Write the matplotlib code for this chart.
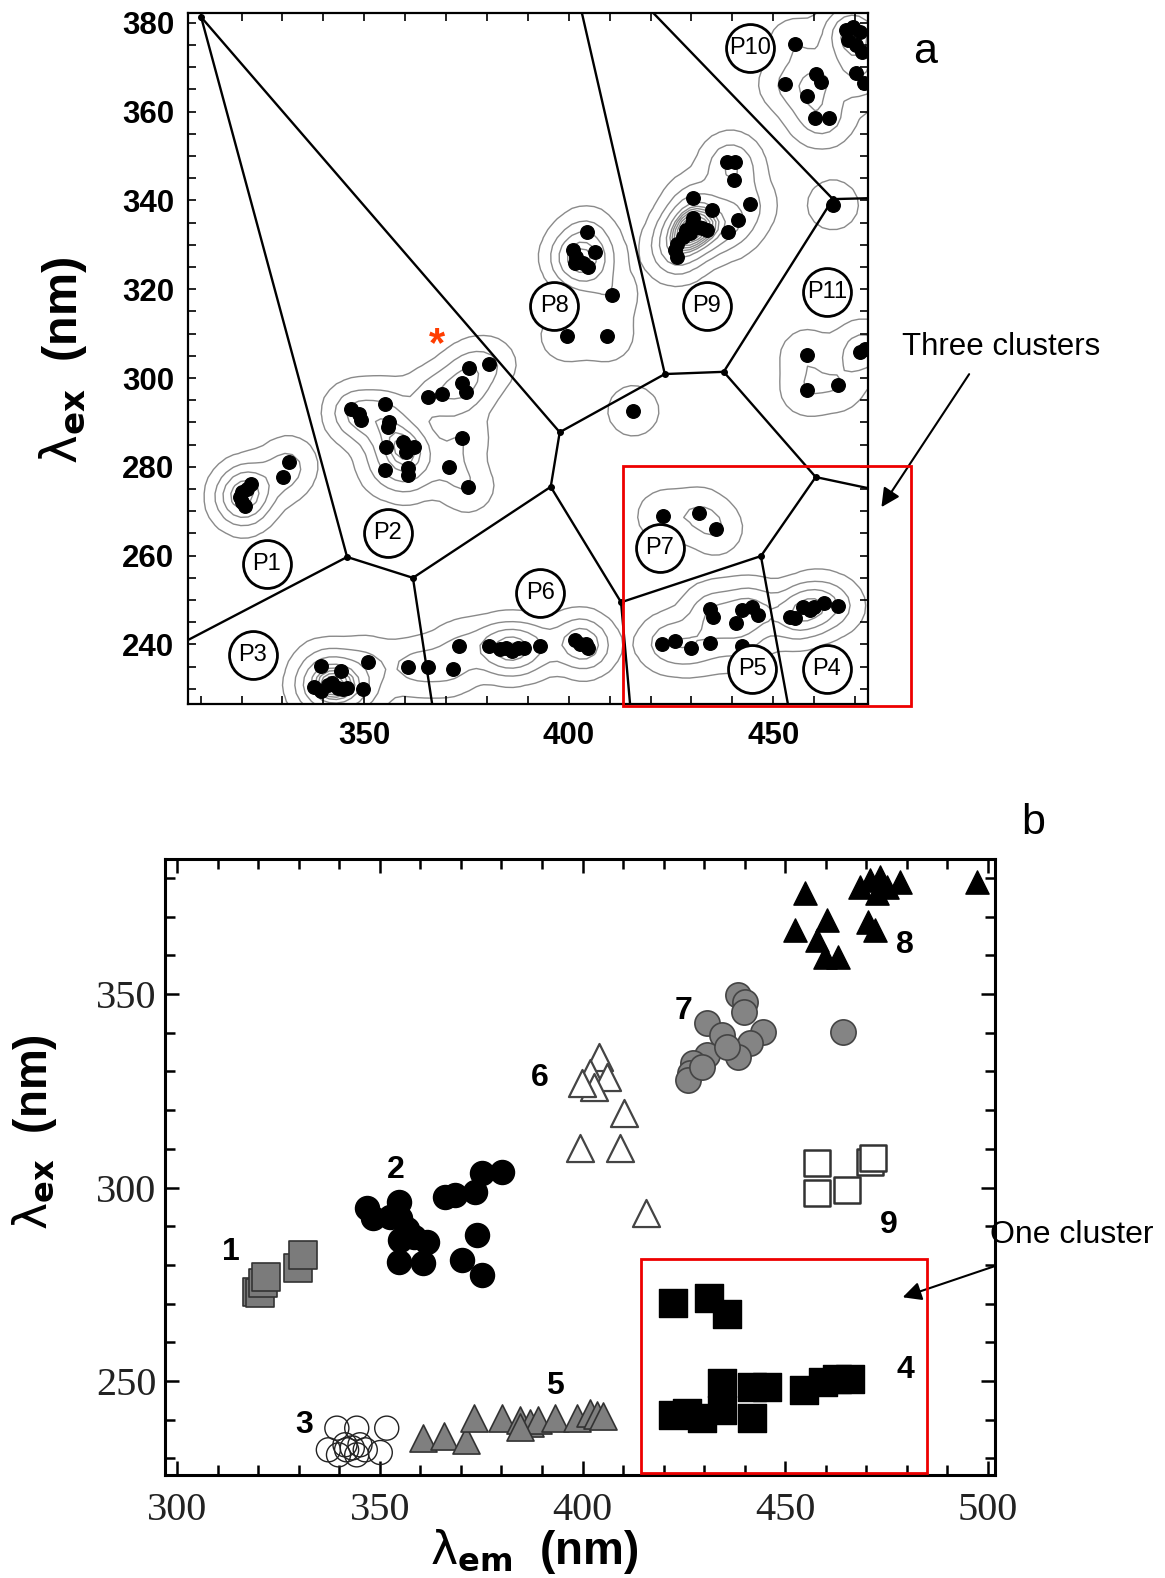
import numpy as np
import matplotlib
matplotlib.use("Agg")
import matplotlib.pyplot as plt
from matplotlib.patches import Rectangle
from matplotlib.ticker import MultipleLocator

plt.rcParams['font.family'] = ['Liberation Sans', 'DejaVu Sans']
plt.rcParams['mathtext.fontset'] = 'dejavusans'

# ---------------- panel a: peak maxima (lambda_em, lambda_ex) in nm ----------------
p1_em = [331.6, 330.1, 322.3, 321.3, 320.1, 319.6, 320.1, 320.8]
p1_ex = [281.1, 277.7, 276.1, 275.0, 274.3, 273.2, 272.1, 271.2]

p2_em = [346.8, 348.8, 349.2, 355.1, 356.1, 355.7, 355.2, 359.4, 360.4, 362.2, 360.2, 355.1,
         360.8, 360.8, 365.7, 369.0, 374.0, 374.9, 375.7, 380.6, 373.9, 370.6, 375.3]
p2_ex = [293.0, 292.0, 290.5, 294.1, 290.2, 289.0, 284.5, 285.7, 284.5, 284.5, 283.4, 279.3,
         279.7, 278.2, 295.8, 296.5, 298.8, 296.9, 302.2, 303.2, 286.6, 280.0, 275.5]

p3_em = [339.4, 344.3, 337.8, 339.4, 341.1, 342.2, 343.5, 344.7, 345.8, 349.6, 351.0, 360.8, 365.7, 371.6]
p3_ex = [235.1, 234.1, 230.5, 229.6, 230.9, 231.4, 230.1, 229.9, 230.1, 229.9, 236.0, 235.0, 235.0, 234.5]

p4_em = [454.1, 455.3, 457.4, 459.0, 459.9, 462.4, 465.9]
p4_ex = [246.2, 245.9, 248.4, 247.7, 248.5, 249.4, 248.6]

p5_em = [422.9, 426.0, 429.8, 434.5, 434.5, 435.2, 440.9, 442.3, 444.8, 446.3, 442.3]
p5_ex = [240.1, 240.8, 239.1, 240.4, 247.9, 246.2, 244.9, 247.7, 248.5, 246.6, 239.6]

p6_em = [373.2, 380.4, 383.2, 384.7, 386.1, 387.6, 389.0, 393.0, 401.5, 402.7, 404.3, 404.7]
p6_ex = [239.6, 239.6, 238.9, 239.1, 238.5, 239.2, 239.1, 239.6, 241.0, 240.2, 240.2, 239.1]

p7_em = [423.1, 431.8, 436.1]
p7_ex = [268.9, 269.5, 266.0]

p8_em = [404.4, 401.1, 401.9, 403.6, 404.7, 406.4, 401.5, 410.5, 399.5, 409.4]
p8_ex = [332.9, 328.8, 327.3, 325.8, 325.1, 328.4, 325.8, 318.7, 309.5, 309.5]

p9_em = [438.6, 440.6, 440.3, 444.3, 441.3, 439.0, 430.5, 435.0, 430.5, 430.1,
         431.3, 432.5, 428.8, 428.0, 426.4, 426.0, 426.4, 433.7, 429.6, 464.6]
p9_ex = [348.7, 348.7, 344.6, 339.3, 335.6, 333.0, 340.5, 337.8, 336.0, 334.8,
         334.1, 333.7, 333.3, 331.8, 330.3, 328.8, 327.3, 333.3, 332.6, 339.0]

p10_em = [455.3, 452.9, 460.5, 461.6, 458.2, 460.2, 463.6, 467.8, 469.5, 471.2,
          468.3, 470.2, 471.7, 470.2, 472.2]
p10_ex = [375.2, 366.2, 368.5, 366.7, 363.5, 358.5, 358.5, 378.4, 379.1, 377.9,
          376.1, 375.0, 373.4, 368.7, 366.4]

p11_em = [458.2, 458.2, 465.9, 471.2, 472.5, 415.8]
p11_ex = [305.2, 297.3, 298.4, 305.9, 306.5, 292.6]

# Voronoi tessellation: vertices and edges (index pairs)
vert_em = [310.1, 345.8, 397.8, 361.9, 395.6, 412.8, 447.0, 460.4, 437.9, 423.5, 464.6,
           306.9, 366.6, 415.0, 453.6, 473.2, 403.2, 420.6, 473.2]
vert_ex = [381.3, 259.7, 287.8, 255.0, 275.5, 249.5, 259.9, 277.7, 301.4, 300.9, 340.3,
           241.0, 226.6, 226.6, 226.6, 275.2, 382.3, 382.3, 340.5]
n_inner = 11
edges = [(0, 1), (0, 2), (1, 11), (1, 3), (3, 12), (3, 4), (4, 2), (4, 5), (5, 13), (5, 6),
         (6, 14), (6, 7), (7, 15), (7, 8), (8, 9), (9, 2), (9, 16), (8, 10), (10, 18), (10, 17)]

peak_names = ['P1', 'P2', 'P3', 'P4', 'P5', 'P6', 'P7', 'P8', 'P9', 'P10', 'P11']
peak_lab_em = [326.1, 355.8, 322.7, 463.1, 444.9, 393.0, 422.3, 396.4, 433.8, 444.3, 463.1]
peak_lab_ex = [258.2, 265.1, 237.6, 234.5, 234.5, 251.5, 261.7, 316.2, 316.2, 374.3, 319.4]

# ---------------- panel b: clustered peaks ----------------
b1_em = [319.7, 320.5, 321.3, 322.0, 329.9, 331.1]
b1_ex = [273.1, 272.7, 275.2, 276.9, 279.1, 282.6]

b2_em = [346.8, 348.4, 354.6, 355.0, 356.6, 355.0, 361.6, 354.6, 360.7, 366.1,
         368.6, 373.5, 375.1, 380.1, 373.9, 370.2, 375.1, 358.3, 352.5]
b2_ex = [294.6, 292.0, 296.3, 292.0, 289.4, 286.4, 286.0, 280.8, 280.4, 297.5,
         298.1, 298.9, 303.7, 304.1, 287.7, 281.3, 277.4, 287.3, 292.5]

b3_em = [339.4, 344.3, 351.7, 337.3, 339.8, 341.8, 344.3, 346.4, 350.1, 341.4, 343.2, 345.1]
b3_ex = [237.8, 237.8, 237.8, 232.2, 230.9, 232.2, 230.9, 232.2, 231.5, 233.5, 232.7, 233.5]

b4_em = [422.4, 431.3, 435.6, 422.4, 425.7, 429.4, 434.3, 434.3, 441.7, 441.7,
         445.4, 454.5, 459.4, 462.7, 466.0]
b4_ex = [270.2, 271.4, 267.3, 241.2, 241.7, 240.4, 249.4, 242.5, 248.5, 240.4,
         248.5, 247.7, 249.8, 250.6, 250.6]

b5_em = [360.7, 365.7, 371.3, 373.1, 380.1, 384.6, 387.1, 389.1, 393.2, 384.6,
         398.6, 401.8, 403.5, 405.1]
b5_ex = [235.2, 235.8, 234.8, 240.4, 240.4, 240.0, 239.1, 240.0, 240.4, 238.2,
         240.4, 241.7, 241.3, 240.9]

b6_em = [404.1, 401.8, 406.0, 402.7, 399.9, 410.1, 399.4, 409.2, 415.7]
b6_ex = [333.8, 329.5, 328.6, 326.0, 327.0, 319.2, 310.1, 310.1, 293.3]

b7_em = [438.4, 440.1, 439.7, 430.6, 434.3, 444.6, 441.3, 438.4, 430.6, 427.3,
         426.5, 426.1, 429.4, 435.6, 464.3]
b7_ex = [349.7, 348.0, 345.4, 342.4, 339.4, 340.3, 337.3, 333.8, 334.2, 332.1,
         329.5, 327.8, 331.2, 336.4, 340.3]

b8_em = [454.9, 452.4, 460.2, 457.8, 459.8, 463.1, 468.4, 470.9, 473.4, 475.0,
         478.4, 472.5, 470.5, 472.1, 497.2]
b8_ex = [376.0, 366.5, 369.1, 363.9, 359.6, 359.6, 377.7, 379.5, 380.3, 377.7,
         379.0, 376.0, 368.7, 366.5, 379.0]

b9_em = [457.8, 457.8, 465.2, 470.9, 471.7]
b9_ex = [306.3, 298.5, 299.4, 306.7, 307.5]

clu_names = ['1', '2', '3', '4', '5', '6', '7', '8', '9']
clu_lab_em = [313.3, 353.8, 331.3, 479.5, 393.2, 389.5, 425.0, 479.5, 475.6]
clu_lab_ex = [283.3, 304.5, 238.6, 252.8, 248.7, 328.3, 345.6, 362.7, 290.3]

# ---------------- figure ----------------
fig = plt.figure(figsize=(11.65, 15.78), dpi=100)

# ===== panel a =====
ax = fig.add_axes([0.1614, 0.5539, 0.5837, 0.4381])
ax.set_xlim(306.9, 473.2)
ax.set_ylim(226.6, 382.3)

all_em = np.array(p1_em + p2_em + p3_em + p4_em + p5_em + p6_em + p7_em + p8_em + p9_em + p10_em + p11_em)
all_ex = np.array(p1_ex + p2_ex + p3_ex + p4_ex + p5_ex + p6_ex + p7_ex + p8_ex + p9_ex + p10_ex + p11_ex)

# density contours (gaussian kernel on a coarse grid)
gx = np.arange(300, 480, 1.8)
gy = np.arange(220, 390, 1.8)
GX, GY = np.meshgrid(gx, gy)
sx, sy = 4.0, 3.6
dens = np.exp(-((GX[..., None] - all_em) ** 2 / (2 * sx ** 2)
                + (GY[..., None] - all_ex) ** 2 / (2 * sy ** 2))).sum(-1)
levels = [0.3, 1.2, 2.4, 3.8, 4.6, 5.1, 5.6, 6.1, 6.6, 7.1, 7.6, 8.1, 8.6, 9.1, 9.6, 10.1, 10.6]
ax.contour(GX, GY, dens, levels=levels, colors='#8a8a8a', linewidths=1.0, zorder=1)

for i, j in edges:
    ax.plot([vert_em[i], vert_em[j]], [vert_ex[i], vert_ex[j]], color='black', lw=1.7, zorder=2)
ax.scatter(vert_em[:n_inner], vert_ex[:n_inner], s=16, color='black', zorder=3)

ax.scatter(all_em, all_ex, s=95, color='black', zorder=4)

ax.scatter(peak_lab_em, peak_lab_ex, s=1190, facecolors='white', edgecolors='black',
           linewidths=2.0, zorder=5)
for name, x, y in zip(peak_names, peak_lab_em, peak_lab_ex):
    ax.text(x, y, name, fontsize=17, ha='center', va='center', zorder=6)

ax.text(367.7, 307.4, '*', color='#ff3c00', fontsize=30, fontweight='bold',
        ha='center', va='center', zorder=6)

ax.xaxis.set_major_locator(MultipleLocator(50))
ax.xaxis.set_minor_locator(MultipleLocator(10))
ax.yaxis.set_major_locator(MultipleLocator(20))
ax.yaxis.set_minor_locator(MultipleLocator(5))
ax.tick_params(which='both', direction='in', top=True, right=True, length=6, width=1.2)
ax.tick_params(axis='x', labelsize=22.5, pad=12)
ax.tick_params(axis='y', labelsize=22.5, pad=10)
for lab in ax.get_xticklabels() + ax.get_yticklabels():
    lab.set_fontweight('bold')
for sp in ax.spines.values():
    sp.set_linewidth(1.6)

ax.add_patch(Rectangle((413.2, 226.1), 70.4, 54.1, fill=False, ec='#ee0000', lw=2.0,
                       clip_on=False, zorder=7))
ax.annotate('', xy=(476.1, 270.4), xytext=(498.3, 301.4),
            arrowprops=dict(arrowstyle='-|>', color='black', lw=1.5, mutation_scale=28),
            annotation_clip=False)
ax.text(505.7, 307.0, 'Three clusters', fontsize=22.5, ha='center', va='center', clip_on=False)

fig.text(63 / 1165, 1 - 360 / 1578, r'$\mathrm{\lambda}_{\mathbf{ex}}$  (nm)', rotation=90,
         fontsize=35, fontweight='bold', ha='center', va='center')
fig.text(0.7944, 0.9669, 'a', fontsize=31, ha='center', va='center')

# ===== panel b =====
bx = fig.add_axes([0.1416, 0.0653, 0.7124, 0.3903])
bx.set_xlim(297.0, 501.7)
bx.set_ylim(225.7, 384.9)

bx.scatter(b3_em, b3_ex, marker='o', s=300, facecolors='none', edgecolors='#222222', linewidths=1.0, zorder=3)
bx.scatter(b1_em, b1_ex, marker='s', s=380, color='#7b7b7b', edgecolors='#333333', linewidths=1.2, zorder=3)
bx.scatter(b2_em, b2_ex, marker='o', s=300, color='black', zorder=3)
bx.scatter(b4_em, b4_ex, marker='s', s=390, color='black', edgecolors='black', zorder=3)
bx.scatter(b5_em, b5_ex, marker='^', s=380, color='#7f7f7f', edgecolors='#333333', linewidths=1.2, zorder=3)
bx.scatter(b6_em, b6_ex, marker='^', s=380, facecolors='white', edgecolors='#444444', linewidths=1.6, zorder=3)
bx.scatter(b7_em, b7_ex, marker='o', s=330, color='#848484', edgecolors='#444444', linewidths=1.2, zorder=3)
bx.scatter(b8_em, b8_ex, marker='^', s=280, color='black', zorder=3)
bx.scatter(b9_em, b9_ex, marker='s', s=330, facecolors='white', edgecolors='#333333', linewidths=1.8, zorder=3)

for name, x, y in zip(clu_names, clu_lab_em, clu_lab_ex):
    bx.text(x, y, name, fontsize=23, fontweight='bold', ha='center', va='center', zorder=6)

bx.xaxis.set_major_locator(MultipleLocator(50))
bx.xaxis.set_minor_locator(MultipleLocator(10))
bx.yaxis.set_major_locator(MultipleLocator(50))
bx.yaxis.set_minor_locator(MultipleLocator(10))
bx.tick_params(which='both', direction='in', top=True, right=True, width=1.8)
bx.tick_params(which='major', length=10)
bx.tick_params(which='minor', length=7)
bx.tick_params(axis='x', labelsize=29, pad=12, labelcolor='#222222')
bx.tick_params(axis='y', labelsize=29, pad=6, labelcolor='#222222')
for lab in bx.get_xticklabels() + bx.get_yticklabels():
    lab.set_fontfamily('Liberation Serif')
for sp in bx.spines.values():
    sp.set_linewidth(2.2)

bx.add_patch(Rectangle((414.4, 226.3), 70.6, 55.2, fill=False, ec='#ee0000', lw=2.0,
                       clip_on=False, zorder=7))
bx.annotate('', xy=(478.3, 271.4), xytext=(502.0, 279.8),
            arrowprops=dict(arrowstyle='-|>', color='black', lw=1.5, mutation_scale=28),
            annotation_clip=False)
bx.text(520.7, 287.7, 'One cluster', fontsize=23, ha='center', va='center', clip_on=False)

fig.text(35 / 1165, 1 - 1132 / 1578, r'$\mathrm{\lambda}_{\mathbf{ex}}$  (nm)', rotation=90,
         fontsize=33, fontweight='bold', ha='center', va='center')
fig.text(534 / 1165, 1 - 1552 / 1578, r'$\mathrm{\lambda}_{\mathbf{em}}$  (nm)',
         fontsize=33, fontweight='bold', ha='center', va='center')
fig.text(0.8867, 0.4785, 'b', fontsize=31, ha='center', va='center')

fig.savefig('out.png', dpi=100)
